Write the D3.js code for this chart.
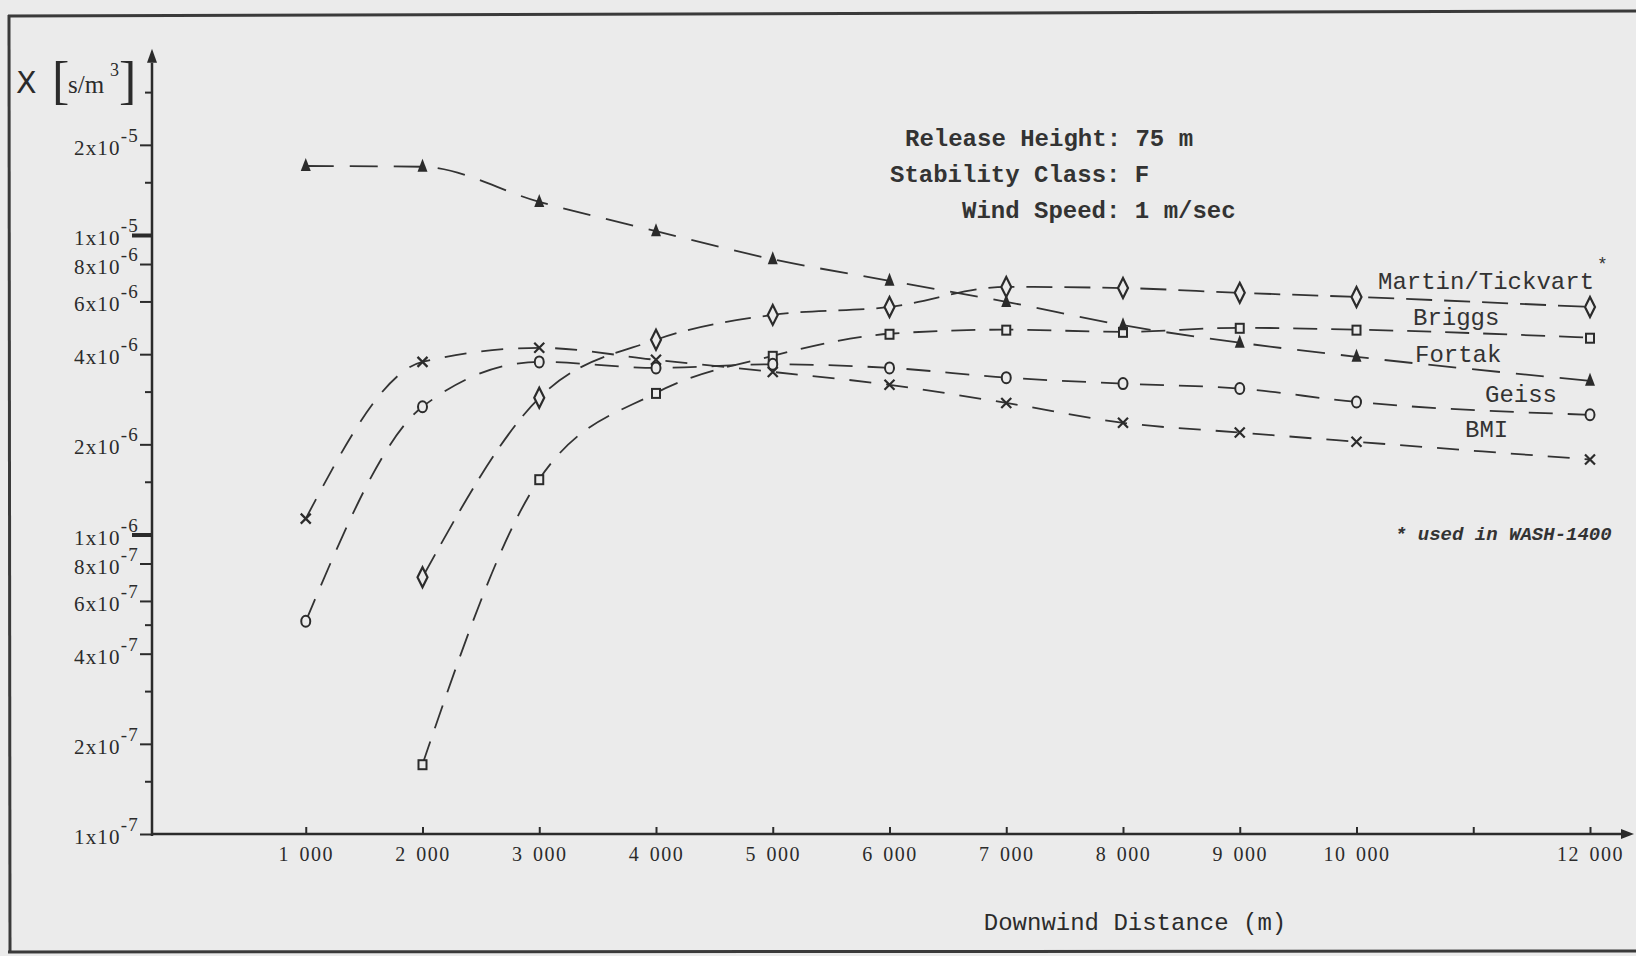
<!DOCTYPE html>
<html>
<head>
<meta charset="utf-8">
<script src="https://cdn.jsdelivr.net/npm/d3@7"></script>
<style>
  body { margin: 0; background: #ebebeb; }
  svg { display: block; }
</style>
</head>
<body>
<script>
// downwind distances (m)
var distances = [1000, 2000, 3000, 4000, 5000, 6000, 7000, 8000, 9000, 10000, 12000];

// concentration chi [s/m^3] (null = no point)
var martin = [null, 7.2e-7, 2.86e-6, 4.47e-6, 5.41e-6, 5.75e-6, 6.71e-6, 6.65e-6, 6.41e-6, 6.21e-6, 5.75e-6];
var briggs = [null, 1.71e-7, 1.53e-6, 2.97e-6, 3.95e-6, 4.68e-6, 4.83e-6, 4.75e-6, 4.9e-6, 4.83e-6, 4.54e-6];
var fortak = [1.70e-5, 1.69e-5, 1.29e-5, 1.03e-5, 8.3e-6, 7.03e-6, 5.98e-6, 5.0e-6, 4.37e-6, 3.92e-6, 3.26e-6];
var geiss  = [5.13e-7, 2.67e-6, 3.77e-6, 3.6e-6, 3.7e-6, 3.6e-6, 3.34e-6, 3.19e-6, 3.07e-6, 2.77e-6, 2.51e-6];
var bmi    = [1.13e-6, 3.77e-6, 4.2e-6, 3.83e-6, 3.49e-6, 3.16e-6, 2.75e-6, 2.36e-6, 2.19e-6, 2.04e-6, 1.78e-6];

var seriesNames = ["Martin/Tickvart", "Briggs", "Fortak", "Geiss", "BMI"];

var yLabelTicks = [2e-5, 1e-5, 8e-6, 6e-6, 4e-6, 2e-6, 1e-6, 8e-7, 6e-7, 4e-7, 2e-7, 1e-7];
var yMinorTicks = [3e-5, 1.5e-5, 3e-6, 1.5e-6, 5e-7, 3e-7, 1.5e-7];
var xTicks = [1000, 2000, 3000, 4000, 5000, 6000, 7000, 8000, 9000, 10000, 11000, 12000];
var xLabelled = [1000, 2000, 3000, 4000, 5000, 6000, 7000, 8000, 9000, 10000, 12000];

var infoLines = ["Release Height: 75 m", "Stability Class: F", "Wind Speed: 1 m/sec"];
var footnote = "* used in WASH-1400";
var xTitle = "Downwind Distance (m)";

var width = 1636, height = 956;
var ink = "#2b2b2b";
var mono = "'Liberation Mono', 'DejaVu Sans Mono', monospace";
var serif = "'Liberation Serif', 'DejaVu Serif', serif";

var svg = d3.select("body").append("svg").attr("width", width).attr("height", height);
svg.append("rect").attr("width", width).attr("height", height).attr("fill", "#ebebeb");

// page frame of the scanned figure
svg.append("line").attr("x1", 8).attr("y1", 16).attr("x2", width).attr("y2", 11)
  .attr("stroke", "#3a3a3a").attr("stroke-width", 3);
svg.append("line").attr("x1", 9).attr("y1", 15).attr("x2", 10).attr("y2", 952)
  .attr("stroke", "#3a3a3a").attr("stroke-width", 3);
svg.append("line").attr("x1", 8).attr("y1", 952).attr("x2", width).attr("y2", 951)
  .attr("stroke", "#3a3a3a").attr("stroke-width", 3);

var x = d3.scaleLinear().domain([0, 12000]).range([189, 1590]);
var y = d3.scaleLog().domain([1e-7, 1e-5]).range([834, 235]);
var axisX = 152, axisY = 834;

// ---- y axis
var yAxisG = svg.append("g").attr("transform", "translate(" + axisX + ",0)");
yAxisG.call(d3.axisLeft(y).tickValues(yLabelTicks).tickSize(12).tickFormat(""));
yAxisG.append("g").call(d3.axisLeft(y).tickValues(yMinorTicks).tickSize(7).tickFormat(""));
yAxisG.selectAll(".domain").remove();
yAxisG.selectAll("line").attr("stroke", ink).attr("stroke-width", 2);
// decade ticks drawn heavier
yAxisG.selectAll(".tick").filter(function(d) { return d === 1e-5 || d === 1e-6; })
  .select("line").attr("x2", -20).attr("stroke-width", 4);

svg.append("line").attr("x1", axisX).attr("y1", y(4e-5) + 8).attr("x2", axisX).attr("y2", axisY + 2)
  .attr("stroke", ink).attr("stroke-width", 2.5);
svg.append("path")
  .attr("d", "M" + axisX + "," + (y(4e-5) - 6) + "l-5,14l10,0z")
  .attr("fill", ink);

var yLab = svg.append("g").attr("font-family", serif).attr("fill", ink);
yLabelTicks.forEach(function(v) {
  var e = Math.floor(Math.log10(v) + 1e-9);
  var m = Math.round(v / Math.pow(10, e));
  var t = yLab.append("text")
    .attr("x", 139).attr("y", y(v) + 10)
    .attr("text-anchor", "end").attr("font-size", 21).attr("letter-spacing", 1.2);
  t.append("tspan").text(m + "x10");
  t.append("tspan").attr("dy", -13).attr("font-size", 19).text("-" + (-e));
});

// y axis title  chi [s/m^3]
var yt = svg.append("g").attr("fill", ink);
yt.append("text").attr("x", 16).attr("y", 93).attr("font-family", "'DejaVu Sans', sans-serif")
  .attr("font-size", 30).text("X");
yt.append("text").attr("x", 52).attr("y", 98).attr("font-family", serif)
  .attr("font-size", 52).text("[");
yt.append("text").attr("x", 68).attr("y", 93).attr("font-family", serif)
  .attr("font-size", 25).text("s/m");
yt.append("text").attr("x", 110).attr("y", 76).attr("font-family", serif)
  .attr("font-size", 18).text("3");
yt.append("text").attr("x", 119).attr("y", 98).attr("font-family", serif)
  .attr("font-size", 52).text("]");

// ---- x axis
var xAxisG = svg.append("g").attr("transform", "translate(0," + axisY + ")");
xAxisG.call(d3.axisBottom(x).tickValues(xTicks).tickSizeInner(-7).tickSizeOuter(0).tickPadding(13)
  .tickFormat(function(d) {
    return xLabelled.indexOf(d) >= 0 ? d3.format(",")(d).replace(",", " ") : "";
  }));
xAxisG.selectAll(".domain").remove();
xAxisG.selectAll("line").attr("stroke", ink).attr("stroke-width", 2);
xAxisG.selectAll("text").attr("font-family", serif).attr("font-size", 20)
  .attr("letter-spacing", 1.5).attr("word-spacing", 3).attr("fill", ink);

svg.append("line").attr("x1", axisX).attr("y1", axisY).attr("x2", 1625).attr("y2", axisY)
  .attr("stroke", ink).attr("stroke-width", 2.5);
svg.append("path").attr("d", "M1634," + axisY + "l-13,-5l0,10z").attr("fill", ink);

svg.append("text").attr("x", 1135).attr("y", 930).attr("text-anchor", "middle")
  .attr("font-family", mono).attr("font-size", 24).attr("fill", ink).text(xTitle);

// ---- annotation
var info = svg.append("g").attr("font-family", mono).attr("font-size", 24)
  .attr("font-weight", "bold").attr("fill", "#333");
info.append("text").attr("x", 905).attr("y", 146).text(infoLines[0]);
info.append("text").attr("x", 890).attr("y", 182).text(infoLines[1]);
info.append("text").attr("x", 962).attr("y", 218).text(infoLines[2]);

// ---- series
var series = [
  { name: seriesNames[0], values: martin, marker: "diamond", dash: "26,12" },
  { name: seriesNames[1], values: briggs, marker: "square",  dash: "24,14" },
  { name: seriesNames[2], values: fortak, marker: "triangle", dash: "28,16" },
  { name: seriesNames[3], values: geiss,  marker: "circle",  dash: "24,15" },
  { name: seriesNames[4], values: bmi,    marker: "cross",   dash: "22,15" }
];

var line = d3.line()
  .defined(function(d) { return d[1] != null; })
  .x(function(d) { return x(d[0]); })
  .y(function(d) { return y(d[1]); })
  .curve(d3.curveMonotoneX);

var plot = svg.append("g");
series.forEach(function(s) {
  var pts = distances.map(function(d, i) { return [d, s.values[i]]; });
  plot.append("path").datum(pts)
    .attr("d", line)
    .attr("fill", "none").attr("stroke", "#333").attr("stroke-width", 1.8)
    .attr("stroke-dasharray", s.dash);
});

function marker(g, type) {
  if (type === "diamond") {
    g.append("path").attr("d", "M0,-10L5,0L0,10L-5,0Z")
      .attr("fill", "#ebebeb").attr("stroke", ink).attr("stroke-width", 2.2);
  } else if (type === "square") {
    g.append("rect").attr("x", -4).attr("y", -4).attr("width", 8).attr("height", 9)
      .attr("fill", "#ebebeb").attr("stroke", ink).attr("stroke-width", 2);
  } else if (type === "triangle") {
    g.append("path").attr("d", "M0,-8L5,5L-5,5Z").attr("fill", ink);
  } else if (type === "circle") {
    g.append("ellipse").attr("rx", 4.5).attr("ry", 5.5)
      .attr("fill", "#ebebeb").attr("stroke", ink).attr("stroke-width", 2);
  } else {
    g.append("path").attr("d", "M-5,-5L5,5M5,-5L-5,5")
      .attr("stroke", ink).attr("stroke-width", 2.2);
  }
}

series.forEach(function(s) {
  distances.forEach(function(d, i) {
    var v = s.values[i];
    if (v == null) return;
    var g = plot.append("g").attr("transform", "translate(" + x(d) + "," + y(v) + ")");
    marker(g, s.marker);
  });
});

// series labels
var lab = svg.append("g").attr("font-family", mono).attr("font-size", 24).attr("fill", "#333");
lab.append("text").attr("x", 1378).attr("y", 289).text(seriesNames[0]);
lab.append("text").attr("x", 1597).attr("y", 270).attr("font-size", 18).text("*");
lab.append("text").attr("x", 1413).attr("y", 325).text(seriesNames[1]);
lab.append("text").attr("x", 1415).attr("y", 362).text(seriesNames[2]);
lab.append("text").attr("x", 1485).attr("y", 402).text(seriesNames[3]);
lab.append("text").attr("x", 1465).attr("y", 437).text(seriesNames[4]);

svg.append("text").attr("x", 1395).attr("y", 540)
  .attr("font-family", mono).attr("font-size", 19).attr("font-style", "italic")
  .attr("font-weight", "bold").attr("fill", "#333").text(footnote);
</script>
</body>
</html>
